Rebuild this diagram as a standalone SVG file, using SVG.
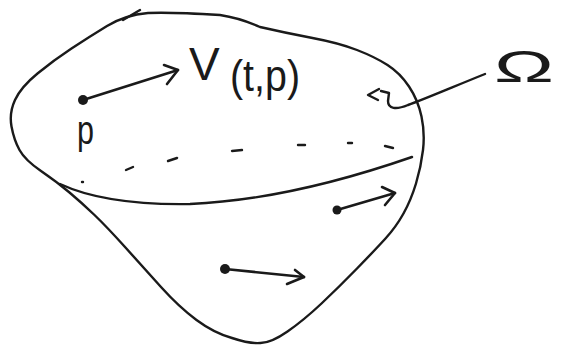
<svg xmlns="http://www.w3.org/2000/svg" width="561" height="348" viewBox="0 0 561 348">
<style>
.ln{fill:none;stroke:#1a1a1a;stroke-width:2.4;stroke-linecap:round;stroke-linejoin:round}
.ar{fill:none;stroke:#1a1a1a;stroke-width:2.6;stroke-linecap:round;stroke-linejoin:round}
.dot{fill:#1a1a1a}
.t{font-family:"Liberation Sans",Arial,sans-serif;fill:#1a1a1a}
</style>
<rect width="561" height="348" fill="#fff"/>
<g id="domain">
<path class="ln" d="M41,171 Q57,182 69.5,192.5 Q82,203 94.5,215 Q107,227 125,247 Q143,267 161,287 Q179,307 196.5,320 Q214,333 232,338 Q250,344 260.5,343 Q271,343 287.5,331.5 Q304,320 321.5,303.5 Q339,287 357,268.5 Q375,250 385.5,238.5 Q396,227 403.5,213.5 Q411,200 416,183.5 Q421,167 423,150 Q425,133 421.5,116.5 Q418,100 409,86.5 Q400,73 387.5,65 Q375,57 357,50 Q339,43 312.5,38 Q286,33 260,27 Q240,18 220,15 Q171,12 148,13 Q125,15 107,26 Q89,37 71.5,48.5 Q54,60 37.5,73.5 Q21,87 15,100 Q9,113 11.5,126.5 Q14,140 19.5,150 Q25,160 41,171 Z"/>
<path class="ln" d="M123,20 L140,10"/>
<path class="ln" d="M60,184 C90,198 130,205 190,204 C260,201 340,182 412,157"/>
<g class="ln">
<path d="M82,182 L83,182"/>
<path d="M126,170 L133,167"/>
<path d="M168,161 L177,158"/>
<path d="M232,151 L242,150"/>
<path d="M298,145 L305,145"/>
<path d="M348,143 L352,143"/>
<path d="M385,146 L393,148"/>
</g>
</g>
<g id="label-omega">
<path class="ln" d="M485,74 C455,86 425,99 408,105 C396,110 388,109 388,101 L389,93 L381,91"/>
<path class="ln" d="M379,89 L368,95 L378,100"/>
<text class="t" x="494" y="82" font-size="45" textLength="60" lengthAdjust="spacingAndGlyphs">Ω</text>
</g>
<g id="vec-p">
<circle class="dot" cx="83" cy="100" r="5"/>
<path class="ar" d="M83,100 L178,70"/>
<path class="ar" d="M164,65 L178,70 L167,84"/>
<text class="t" x="77" y="144" font-size="40" textLength="17" lengthAdjust="spacingAndGlyphs">p</text>
<text class="t" x="189" y="80" font-size="46">V</text>
<text class="t" x="230" y="91" font-size="44" textLength="70" lengthAdjust="spacingAndGlyphs">(t,p)</text>
</g>
<g id="vec-2">
<circle class="dot" cx="337" cy="210" r="4.5"/>
<path class="ar" d="M337,210 L395,193"/>
<path class="ar" d="M382,187 L395,193 L385,205"/>
</g>
<g id="vec-3">
<circle class="dot" cx="225" cy="269" r="5"/>
<path class="ar" d="M225,269 L304,277"/>
<path class="ar" d="M295,270 L304,277 L287,284"/>
</g>
</svg>
